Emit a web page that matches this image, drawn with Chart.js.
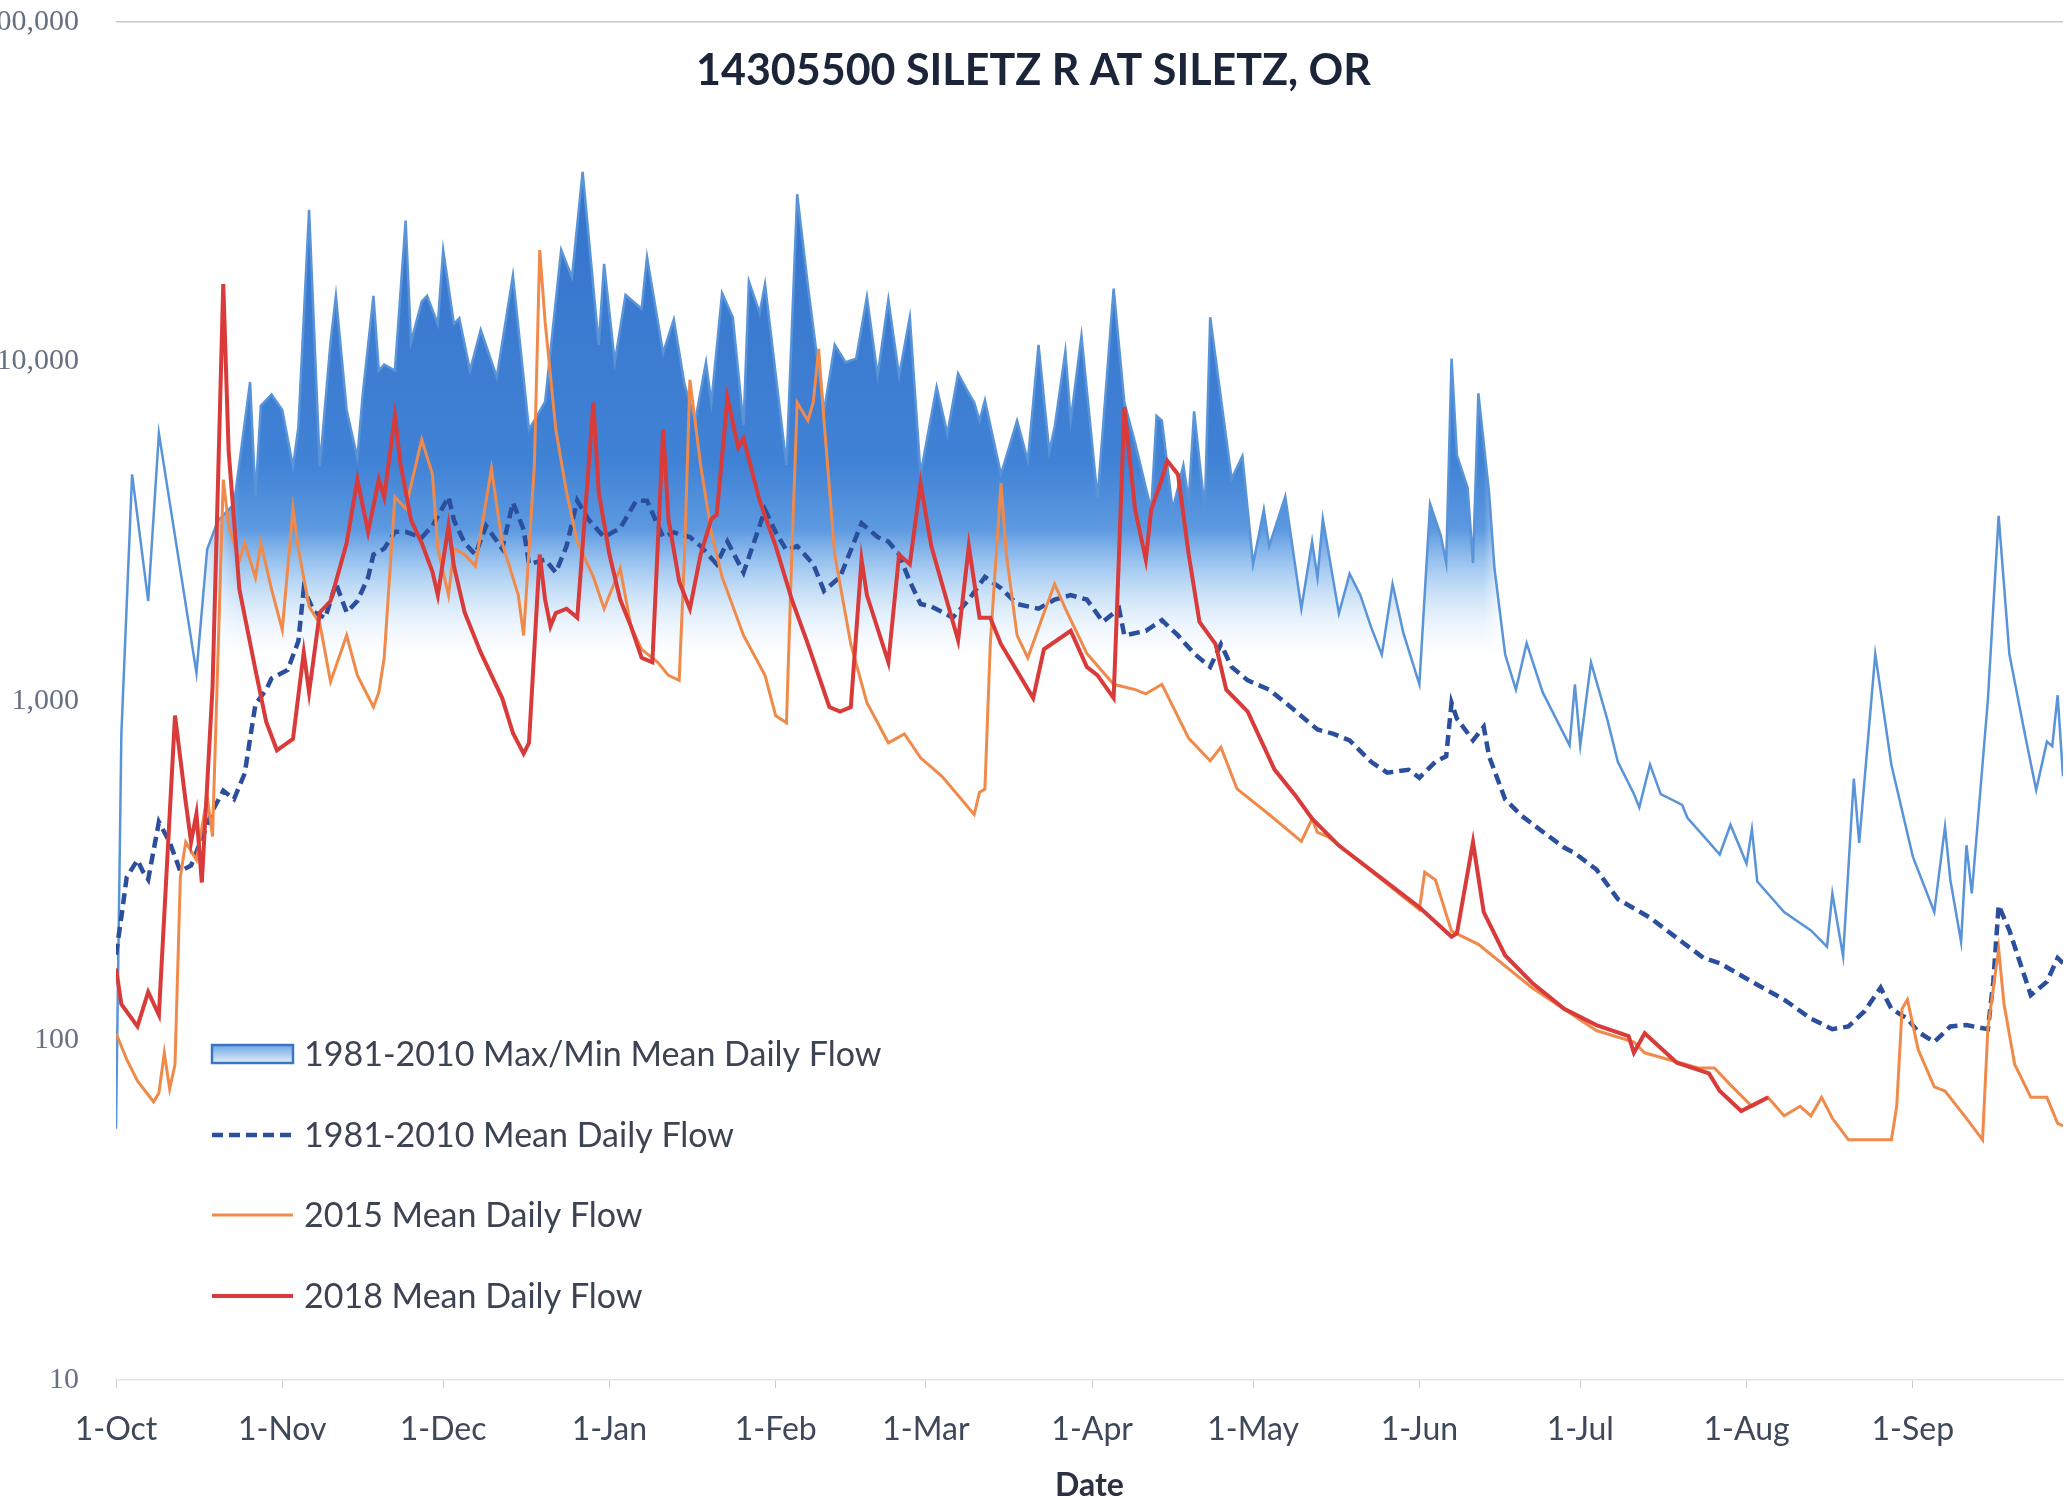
<!DOCTYPE html>
<html>
<head>
<meta charset="utf-8">
<script src="https://cdn.jsdelivr.net/npm/chart.js@4.4.1/dist/chart.umd.min.js"></script>
<style>
html,body{margin:0;padding:0;background:#ffffff;overflow:hidden}
#wrap{width:2067px;height:1500px;position:relative;background:#ffffff}
</style>
</head>
<body>
<div id="wrap"><canvas id="c" width="2067" height="1500"></canvas></div>
<script>
// ---------------- DATA ----------------
const chartTitle = '14305500 SILETZ R AT SILETZ, OR';
const xAxisTitle = 'Date';

// x = day of water year (0 = 1-Oct)
const monthDays   = [0, 31, 61, 92, 123, 151, 182, 212, 243, 273, 304, 335];
const monthLabels = ['1-Oct','1-Nov','1-Dec','1-Jan','1-Feb','1-Mar','1-Apr','1-May','1-Jun','1-Jul','1-Aug','1-Sep'];
const yTickValues = [10, 100, 1000, 10000, 100000];
const yTickLabels = ['10', '100', '1,000', '10,000', '100,000'];

const seriesLabels = ['1981-2010 Max/Min Mean Daily Flow', '1981-2010 Mean Daily Flow', '2015 Mean Daily Flow', '2018 Mean Daily Flow'];

// 1981-2010 maximum mean daily flow (cfs)
const maxDays = [0,1,3,6,8,15,17,19,22,25,26,27,29,31,33,34,36,38,40,41,43,45,46,48,49,50,52,54,55,57,58,60,61,63,64,66,68,71,74,77,80,83,85,87,90,91,93,95,98,99,102,104,106,108,110,111,113,115,117,118,120,121,125,127,129,132,134,136,138,140,142,144,146,148,150,152,153,155,157,159,160,161,162,165,168,170,172,174,175,177,178,180,183,186,188,190,193,194,195,197,199,200,201,203,204,208,210,212,214,215,218,221,223,224,225,228,230,232,234,236,238,240,243,245,247,248,249,250,252,253,254,256,257,259,261,263,266,271,272,273,275,278,280,283,284,286,288,292,293,296,299,301,304,305,306,311,316,319,320,322,324,325,328,331,335,339,341,342,344,345,346,349,351,353,356,358,360,361,362,363];
const maxFlow = [55,800,4650,1970,6140,1210,2800,3400,3800,8700,4000,7400,8000,7200,4900,6400,28000,4900,11400,15600,7200,5200,8000,15600,9400,9800,9400,26000,11400,15000,15600,12900,21300,12900,13400,9400,12400,9000,17900,6300,7600,21300,17700,36200,11200,19400,9950,15700,14300,20300,10600,13300,8550,6700,9950,7570,15900,13500,6500,17200,13900,16900,4950,31100,16700,7130,11200,9950,10200,15500,9080,15200,9080,13500,4650,6920,8420,6120,9220,8050,7570,6700,7680,4650,6700,5100,11200,5430,6400,10700,6700,11900,3950,16400,7570,5760,3660,6920,6700,3660,4950,3890,7130,3660,13500,4510,5260,2530,3660,2860,4000,1870,2950,2310,3440,1810,2370,2050,1650,1370,2210,1590,1120,3810,3070,2550,10200,5300,4250,2550,8060,4100,2460,1370,1080,1480,1060,740,1120,740,1300,887,662,532,486,650,532,494,452,400,353,432,332,419,294,239,211,189,271,177,591,382,1375,649,348,239,426,297,195,376,271,1010,3510,1375,783,547,759,736,1040,600];

// 1981-2010 mean daily flow (cfs)
const meanDays = [0,1,2,4,5,6,8,10,12,14,17,18,20,22,24,25,26,28,29,32,34,35,37,39,41,43,45,47,48,50,52,54,57,59,62,63,65,67,69,72,74,76,77,80,82,84,86,88,91,94,97,99,102,104,107,109,112,114,117,119,121,123,125,127,130,132,135,137,139,142,144,146,148,150,152,156,159,162,165,168,172,175,178,181,184,187,188,192,195,198,201,204,206,208,211,215,219,224,227,230,234,237,241,243,246,248,249,250,253,255,256,259,262,266,270,272,276,280,286,292,296,299,305,311,316,320,323,326,329,331,334,336,339,342,345,349,350,351,353,357,360,362,363];
const meanFlow = [179,231,303,340,315,298,440,384,315,328,431,475,544,514,612,774,978,1080,1165,1235,1500,2135,1825,1755,2220,1825,1970,2310,2700,2810,3150,3150,3030,3280,3990,3410,2920,2700,3280,2810,3840,3200,2530,2610,2390,2860,3890,3440,3040,3230,3890,3890,3040,3140,3040,2860,2530,2950,2390,2950,3660,3140,2780,2860,2530,2110,2320,2780,3340,3040,2950,2700,2250,1930,1900,1760,1990,2320,2150,1930,1870,1990,2050,1990,1710,1870,1560,1610,1730,1560,1380,1260,1470,1260,1150,1080,960,824,800,766,662,615,627,594,662,687,988,887,766,839,687,513,460,412,370,356,319,261,230,195,175,169,149,132,116,108,110,122,143,124,116,106,99,110,111,108,149,250,211,136,149,175,169];

// 2015 mean daily flow (cfs)
const y2015Days = [0,2,4,7,8,9,10,11,12,13,15,17,18,20,21,23,24,26,27,29,31,33,34,36,38,40,43,45,48,49,50,52,54,55,57,59,60,62,63,65,67,70,72,75,76,78,79,80,82,84,86,89,91,94,96,98,101,103,105,106,107,109,111,113,117,121,123,125,126,127,129,130,131,132,134,137,140,144,147,150,154,160,161,162,163,165,166,168,170,173,175,177,181,186,190,192,195,200,204,206,209,215,221,223,224,226,243,244,246,249,254,264,276,283,285,295,298,301,305,308,311,314,316,318,320,323,331,332,333,334,336,339,341,345,348,349,351,352,354,357,360,362,363];
const y2015Flow = [105,88,76,66,70,92,72,85,303,384,340,524,399,4490,3280,2600,2920,2310,2920,2135,1620,3690,2810,1900,1690,1140,1560,1190,960,1060,1340,3990,3690,4310,5890,4650,2810,2050,2810,2700,2500,4840,2920,2050,1560,4950,21300,13100,6300,4120,2950,2320,1870,2460,1660,1420,1300,1190,1150,2700,8830,4950,3140,2320,1560,1190,904,863,2700,7570,6700,7570,10900,6700,2700,1470,989,753,800,680,600,463,539,550,1470,4380,2700,1560,1340,1815,2210,1870,1380,1120,1080,1050,1120,776,667,731,551,463,386,450,410,398,243,313,297,210,192,143,107,99,92,83,83,74,64,68,60,64,60,68,59,51,51,64,124,132,94,73,71,59,51,109,186,128,85,68,68,57,56];

// 2018 mean daily flow (cfs)
const y2018Days = [0,1,4,6,8,11,13,14,15,16,18,20,21,23,26,28,30,33,35,36,38,40,43,45,47,49,50,52,53,55,57,59,60,62,63,65,68,72,74,76,77,79,80,81,82,84,86,89,90,92,94,96,98,100,102,103,105,107,109,111,112,114,116,117,120,123,126,129,133,135,137,139,140,144,146,148,150,152,157,159,161,163,165,168,171,173,178,181,183,186,187,188,190,192,193,195,196,198,200,202,205,207,211,216,220,223,228,243,249,250,253,255,259,264,270,276,282,283,285,291,297,299,303,308];
const y2018Flow = [163,128,110,139,119,906,504,384,466,292,1100,16900,5450,2135,1235,869,716,774,1390,1060,1825,1970,2920,4490,3150,4490,3990,6910,5040,3410,2920,2400,2050,3280,2500,1825,1390,1020,805,700,753,2700,1990,1660,1815,1870,1760,7570,4120,2700,1990,1660,1340,1300,6300,3440,2250,1870,2700,3440,3540,7820,5580,5930,3890,2860,1990,1470,960,931,960,2610,2050,1300,2700,2530,4380,2860,1510,2860,1760,1760,1470,1225,1020,1420,1610,1260,1190,1020,2700,7340,3660,2610,3660,4510,5100,4650,2700,1710,1470,1080,931,628,524,450,375,247,202,207,384,239,178,148,124,111,103,92,105,86,80,71,62,68];

// ---------------- CHART ----------------
const pts = (d, v) => d.map((x, i) => ({ x: x, y: v[i] }));

const FONT_SANS = 'Lato, "Open Sans", "DejaVu Sans", sans-serif';
const FONT_SERIF = '"Liberation Serif", "DejaVu Serif", serif';

let fillCache = null;
function maxFill(context) {
  const chart = context.chart;
  const area = chart.chartArea;
  if (!area || !chart.scales || !chart.scales.x || !chart.scales.y) return 'rgba(80,140,220,0.5)';
  const key = [area.left, area.top, area.right, area.bottom].join(',');
  if (fillCache && fillCache.key === key) return fillCache.pattern;
  const xs = chart.scales.x, ys = chart.scales.y;
  const off = document.createElement('canvas');
  off.width = chart.width; off.height = chart.height;
  const o = off.getContext('2d');
  // vertical fade (by flow level)
  const stops = [[40000,'rgba(52,114,202,1)'],[5000,'rgba(64,130,213,1)'],[3200,'rgba(84,148,223,0.95)'],[2300,'rgba(132,184,237,0.62)'],[1700,'rgba(190,220,247,0.32)'],[1300,'rgba(232,242,252,0)']];
  const y0 = ys.getPixelForValue(stops[0][0]);
  const y1 = ys.getPixelForValue(stops[stops.length - 1][0]);
  const g = o.createLinearGradient(0, y0, 0, y1);
  stops.forEach(s => g.addColorStop((ys.getPixelForValue(s[0]) - y0) / (y1 - y0), s[1]));
  o.fillStyle = g;
  o.fillRect(0, 0, off.width, off.height);
  // horizontal mask (fill shown through the wet season only)
  o.globalCompositeOperation = 'destination-in';
  const xa = xs.getPixelForValue(14), xb = xs.getPixelForValue(23), xc = xs.getPixelForValue(255), xd = xs.getPixelForValue(260);
  const h = o.createLinearGradient(xa, 0, xd, 0);
  const span = xd - xa;
  h.addColorStop(0, 'rgba(0,0,0,0)');
  h.addColorStop((xb - xa) / span, 'rgba(0,0,0,1)');
  h.addColorStop((xc - xa) / span, 'rgba(0,0,0,1)');
  h.addColorStop(1, 'rgba(0,0,0,0)');
  o.fillStyle = h;
  o.fillRect(0, 0, off.width, off.height);
  const pattern = chart.ctx.createPattern(off, 'no-repeat');
  fillCache = { key, pattern };
  return pattern;
}

const overlayPlugin = {
  id: 'overlay',
  afterDraw(chart) {
    const ctx = chart.ctx;
    ctx.save();
    // title
    ctx.fillStyle = '#1b2438';
    ctx.font = 'bold 43px ' + FONT_SANS;
    ctx.textAlign = 'center';
    ctx.textBaseline = 'middle';
    ctx.fillText(chartTitle, chart.width / 2, 71);

    // legend
    const x0 = 212, x1 = 293, tx = 304;
    const rows = [1054, 1135, 1215, 1296];
    ctx.textAlign = 'left';
    ctx.font = '34px ' + FONT_SANS;
    const ds = chart.data.datasets;
    rows.forEach((y, i) => {
      const d = ds[i];
      if (i === 0) {
        const g = ctx.createLinearGradient(0, y - 9, 0, y + 9);
        g.addColorStop(0, '#6ea6e6');
        g.addColorStop(1, '#e3eefb');
        ctx.fillStyle = g;
        ctx.fillRect(x0, y - 9, x1 - x0, 18);
        ctx.strokeStyle = '#3d74c4';
        ctx.lineWidth = 2.5;
        ctx.setLineDash([]);
        ctx.strokeRect(x0, y - 9, x1 - x0, 18);
      } else {
        ctx.strokeStyle = d.borderColor;
        ctx.lineWidth = d.borderWidth;
        ctx.setLineDash(d.borderDash || []);
        ctx.beginPath();
        ctx.moveTo(x0, y);
        ctx.lineTo(x1, y);
        ctx.stroke();
        ctx.setLineDash([]);
      }
      ctx.fillStyle = '#3c4352';
      ctx.fillText(d.label, tx, y + 1);
    });
    ctx.restore();
  }
};

const chart = new Chart(document.getElementById('c'), {
  type: 'line',
  data: {
    datasets: [
      {
        label: seriesLabels[0],
        data: pts(maxDays, maxFlow),
        borderColor: '#5a94d8',
        borderWidth: 2.5,
        backgroundColor: maxFill,
        fill: 'start',
        pointRadius: 0,
        tension: 0,
        order: 4
      },
      {
        label: seriesLabels[1],
        data: pts(meanDays, meanFlow),
        borderColor: '#2b4f9c',
        borderWidth: 4.5,
        borderDash: [11, 6],
        fill: false,
        pointRadius: 0,
        tension: 0,
        order: 3
      },
      {
        label: seriesLabels[2],
        data: pts(y2015Days, y2015Flow),
        borderColor: '#f08a4b',
        borderWidth: 3,
        fill: false,
        pointRadius: 0,
        tension: 0,
        order: 2
      },
      {
        label: seriesLabels[3],
        data: pts(y2018Days, y2018Flow),
        borderColor: '#d93a3a',
        borderWidth: 4,
        fill: false,
        pointRadius: 0,
        tension: 0,
        order: 1
      }
    ]
  },
  options: {
    responsive: false,
    animation: false,
    devicePixelRatio: 1,
    layout: { padding: { left: 0, right: 4, top: 22, bottom: 0 } },
    plugins: {
      legend: { display: false },
      title: { display: false },
      tooltip: { enabled: false }
    },
    scales: {
      x: {
        type: 'linear',
        min: 0,
        max: 363,
        afterBuildTicks: (s) => { s.ticks = monthDays.map(v => ({ value: v })); },
        afterFit: (s) => { s.height = 120; },
        ticks: {
          autoSkip: false,
          maxRotation: 0,
          callback: (v, i) => monthLabels[i],
          font: { family: FONT_SANS, size: 32 },
          color: '#3f4858',
          padding: 22
        },
        grid: { display: true, drawOnChartArea: false, drawTicks: true, tickLength: 8, tickColor: '#c9ced6' },
        border: { display: true, color: '#e0e4ea', width: 1.5 },
        title: {
          display: true,
          text: xAxisTitle,
          font: { family: FONT_SANS, size: 32, weight: 'bold' },
          color: '#2a3140',
          padding: { top: 0, bottom: -5 }
        }
      },
      y: {
        type: 'logarithmic',
        min: 10,
        max: 100000,
        afterBuildTicks: (s) => { s.ticks = yTickValues.map(v => ({ value: v })); },
        afterFit: (s) => { s.width = 116; s.paddingTop = 0; s.paddingBottom = 0; },
        ticks: {
          autoSkip: false,
          callback: (v, i) => yTickLabels[i],
          font: { family: FONT_SERIF, size: 30 },
          color: '#667083',
          padding: 37
        },
        grid: {
          drawTicks: false,
          lineWidth: 1.5,
          color: (c) => (c.tick && c.tick.value === 100000) ? '#c3c8d0' : 'rgba(0,0,0,0)'
        },
        border: { display: false }
      }
    }
  },
  plugins: [overlayPlugin]
});
</script>
</body>
</html>
